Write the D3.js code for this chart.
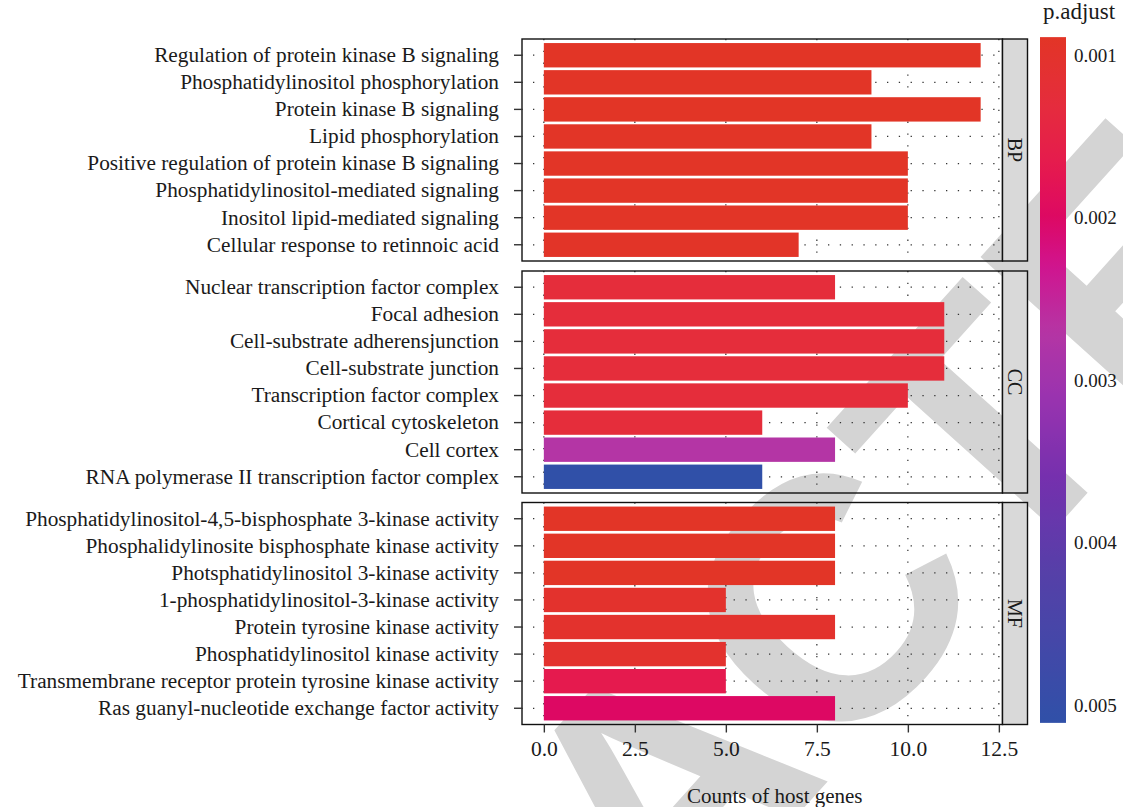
<!DOCTYPE html>
<html>
<head>
<meta charset="utf-8">
<script src="https://cdn.jsdelivr.net/npm/d3@7"></script>
<style>
  body { margin: 0; background: #fff; }
  svg { display: block; }
</style>
</head>
<body>
<svg id="chart" width="1123" height="807"></svg>
<script>
// GO enrichment: gene counts per term, faceted by ontology, filled by adjusted p-value
const ontologies = ["BP", "CC", "MF"];

const bpTerms = [
  "Regulation of protein kinase B signaling",
  "Phosphatidylinositol phosphorylation",
  "Protein kinase B signaling",
  "Lipid phosphorylation",
  "Positive regulation of protein kinase B signaling",
  "Phosphatidylinositol-mediated signaling",
  "Inositol lipid-mediated signaling",
  "Cellular response to retinnoic acid"
];
const bpCounts = [12, 9, 12, 9, 10, 10, 10, 7];
const bpPadjust = [0.00089, 0.00090, 0.00089, 0.00090, 0.00091, 0.00091, 0.00091, 0.00092];

const ccTerms = [
  "Nuclear transcription factor complex",
  "Focal adhesion",
  "Cell-substrate adherensjunction",
  "Cell-substrate junction",
  "Transcription factor complex",
  "Cortical cytoskeleton",
  "Cell cortex",
  "RNA polymerase II transcription factor complex"
];
const ccCounts = [8, 11, 11, 11, 10, 6, 8, 6];
const ccPadjust = [0.00128, 0.00128, 0.00128, 0.00128, 0.00128, 0.00128, 0.00272, 0.00511];

const mfTerms = [
  "Phosphatidylinositol-4,5-bisphosphate 3-kinase activity",
  "Phosphalidylinosite bisphosphate kinase activity",
  "Photsphatidylinositol 3-kinase activity",
  "1-phosphatidylinositol-3-kinase activity",
  "Protein tyrosine kinase activity",
  "Phosphatidylinositol kinase activity",
  "Transmembrane receptor protein tyrosine kinase activity",
  "Ras guanyl-nucleotide exchange factor activity"
];
const mfCounts = [8, 8, 8, 5, 8, 5, 5, 8];
const mfPadjust = [0.00090, 0.00090, 0.00090, 0.00102, 0.00102, 0.00104, 0.00168, 0.00200];

const xTicks = [0, 2.5, 5, 7.5, 10, 12.5];
const legendTicks = [0.001, 0.002, 0.003, 0.004, 0.005];

// colour ramp for p.adjust (low = red, high = blue)
const rampStops  = [0.00089, 0.0013, 0.0017, 0.0020, 0.0023, 0.0027, 0.0031, 0.0036, 0.0042, 0.00511];
const rampColors = ["#e23526", "#e52d3c", "#e5194f", "#dd0863", "#d0148f", "#b535a4", "#9a33af", "#7530ae", "#5540a8", "#3050a8"];

const panelsData = [
  { name: "BP", terms: bpTerms, counts: bpCounts, padj: bpPadjust },
  { name: "CC", terms: ccTerms, counts: ccCounts, padj: ccPadjust },
  { name: "MF", terms: mfTerms, counts: mfCounts, padj: mfPadjust }
];

const svg = d3.select("#chart");
const serif = "'Liberation Serif', 'Times New Roman', serif";

const panelLeft = 522, panelRight = 1002.5;
const panelTops = [39, 271, 502.5];
const panelH = 222;
const stripW = 25;

const x = d3.scaleLinear().domain([-0.6, 12.6]).range([panelLeft, panelRight]);
const fill = d3.scaleLinear().domain(rampStops).range(rampColors).interpolate(d3.interpolateRgb).clamp(true);

// large grey stamp lying underneath the whole figure
svg.append("text")
  .attr("transform", "translate(659,785) rotate(-48)")
  .attr("y", 123)
  .attr("text-anchor", "middle")
  .attr("font-family", "'Liberation Sans', Arial, sans-serif")
  .attr("font-weight", "bold")
  .attr("font-size", 345)
  .attr("fill", "#d4d4d4")
  .text("RETRACTED");

panelsData.forEach((p, k) => {
  const top = panelTops[k];
  const y = d3.scaleBand().domain(p.terms).range([top, top + panelH])
    .paddingInner(0.1).paddingOuter(0.15);
  const g = svg.append("g");

  // dotted grid
  g.selectAll("line.vgrid").data(xTicks).join("line")
    .attr("x1", d => x(d)).attr("x2", d => x(d))
    .attr("y1", top).attr("y2", top + panelH)
    .attr("stroke", "#333").attr("stroke-width", 1.25)
    .attr("stroke-dasharray", "1.3,10.5");
  g.selectAll("line.hgrid").data(p.terms).join("line")
    .attr("x1", panelLeft).attr("x2", panelRight)
    .attr("y1", d => y(d) + y.bandwidth() / 2).attr("y2", d => y(d) + y.bandwidth() / 2)
    .attr("stroke", "#333").attr("stroke-width", 1.25)
    .attr("stroke-dasharray", "1.3,10.5")
    .attr("stroke-dashoffset", -11);

  // bars
  g.selectAll("rect.bar").data(p.terms).join("rect")
    .attr("x", x(0))
    .attr("y", d => y(d))
    .attr("width", (d, i) => x(p.counts[i]) - x(0))
    .attr("height", y.bandwidth())
    .attr("fill", (d, i) => fill(p.padj[i]));

  // panel border
  g.append("rect")
    .attr("x", panelLeft).attr("y", top)
    .attr("width", panelRight - panelLeft).attr("height", panelH)
    .attr("fill", "none").attr("stroke", "#111").attr("stroke-width", 1.4);

  // facet strip
  g.append("rect")
    .attr("x", panelRight).attr("y", top)
    .attr("width", stripW).attr("height", panelH)
    .attr("fill", "#d9d9d9").attr("stroke", "#111").attr("stroke-width", 1.4);
  g.append("text")
    .attr("transform", `translate(${panelRight + stripW / 2},${top + panelH / 2}) rotate(90)`)
    .attr("text-anchor", "middle").attr("dy", "0.35em")
    .attr("font-family", serif).attr("font-size", 20).attr("fill", "#1a1a1a")
    .text(p.name);

  // category axis
  const yAxis = svg.append("g")
    .attr("transform", `translate(${panelLeft},0)`)
    .call(d3.axisLeft(y).tickSize(8).tickPadding(15).tickSizeOuter(0));
  yAxis.select(".domain").remove();
  yAxis.selectAll(".tick line").attr("stroke", "#333").attr("stroke-width", 1.4);
  yAxis.selectAll(".tick text")
    .attr("font-family", serif).attr("font-size", 21.3).attr("fill", "#1a1a1a");
});

// count axis under the last panel
const xAxis = svg.append("g")
  .attr("transform", `translate(0,${panelTops[2] + panelH})`)
  .call(d3.axisBottom(x).tickValues(xTicks).tickFormat(d3.format(".1f"))
    .tickSize(8).tickPadding(8.5).tickSizeOuter(0));
xAxis.select(".domain").remove();
xAxis.selectAll(".tick line").attr("stroke", "#333").attr("stroke-width", 1.4);
xAxis.selectAll(".tick text")
  .attr("font-family", serif).attr("font-size", 21.5).attr("fill", "#1a1a1a");

svg.append("text")
  .attr("x", (panelLeft + panelRight + stripW) / 2).attr("y", 803)
  .attr("text-anchor", "middle")
  .attr("font-family", serif).attr("font-size", 21).attr("fill", "#1a1a1a")
  .text("Counts of host genes");

// colour bar legend
const allP = [].concat(bpPadjust, ccPadjust, mfPadjust);
const pExtent = d3.extent(allP);
const legY = d3.scaleLinear().domain([0.001, 0.005]).range([55, 705]);
const barX = 1040, barW = 26;

const defs = svg.append("defs");
const grad = defs.append("linearGradient").attr("id", "padj-grad")
  .attr("x1", 0).attr("y1", 0).attr("x2", 0).attr("y2", 1);
d3.range(0, 1.0001, 0.02).forEach(t => {
  const v = pExtent[0] + t * (pExtent[1] - pExtent[0]);
  grad.append("stop").attr("offset", t).attr("stop-color", fill(v));
});
svg.append("rect")
  .attr("x", barX).attr("y", legY(pExtent[0]))
  .attr("width", barW).attr("height", legY(pExtent[1]) - legY(pExtent[0]))
  .attr("fill", "url(#padj-grad)");

svg.append("g").selectAll("text").data(legendTicks).join("text")
  .attr("x", 1074).attr("y", d => legY(d)).attr("dy", "0.35em")
  .attr("font-family", serif).attr("font-size", 19).attr("fill", "#1a1a1a")
  .text(d => d3.format(".3f")(d));

svg.append("text")
  .attr("x", 1043).attr("y", 19)
  .attr("font-family", serif).attr("font-size", 23).attr("fill", "#1a1a1a")
  .text("p.adjust");
</script>
</body>
</html>
